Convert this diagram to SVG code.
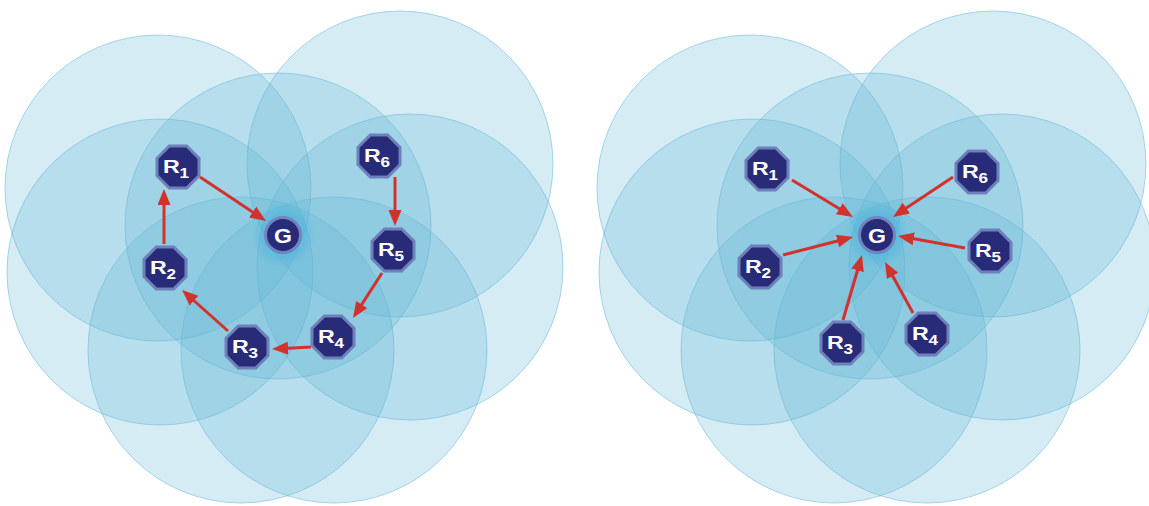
<svg xmlns="http://www.w3.org/2000/svg" width="1149" height="506" viewBox="0 0 1149 506">
<style>
.rng{fill:rgb(98,180,214);fill-opacity:0.26;stroke:rgb(100,182,218);stroke-opacity:0.55;stroke-width:1}
.oct{fill:#282b78;stroke:#6f80bb;stroke-width:3;stroke-linejoin:miter}
.gc{fill:#282b78;stroke:#7384bd;stroke-width:3}
.lbl{font-family:"Liberation Sans",Arial,sans-serif;font-weight:bold;fill:#ffffff;font-size:19px}
.sub{font-size:14px}
.g{font-family:"Liberation Sans",Arial,sans-serif;font-weight:bold;fill:#ffffff;font-size:21px}
.arr{stroke:#d2322b;stroke-width:3;fill:none;marker-end:url(#ah)}
</style>
<defs>
<marker id="ah" markerUnits="userSpaceOnUse" markerWidth="18" markerHeight="14" refX="4" refY="6.5" orient="auto">
<path d="M0,0 L16,6.5 L0,13 z" fill="#d2322b"/>
</marker>
<polygon id="octo" points="21,8.7 8.7,21 -8.7,21 -21,8.7 -21,-8.7 -8.7,-21 8.7,-21 21,-8.7"/>
<radialGradient id="glow">
<stop offset="0.5" stop-color="#3fb2e2" stop-opacity="0.55"/>
<stop offset="1" stop-color="#3fb2e2" stop-opacity="0"/>
</radialGradient>
</defs>

<g id="ranges-left">
<circle class="rng" cx="158" cy="188" r="153"/>
<circle class="rng" cx="160" cy="272" r="153"/>
<circle class="rng" cx="278" cy="226" r="153"/>
<circle class="rng" cx="400" cy="164" r="153"/>
<circle class="rng" cx="410" cy="267" r="153"/>
<circle class="rng" cx="241" cy="350" r="153"/>
<circle class="rng" cx="334" cy="350" r="153"/>
</g>
<g id="ranges-right">
<circle class="rng" cx="750" cy="188" r="153"/>
<circle class="rng" cx="752" cy="272" r="153"/>
<circle class="rng" cx="870" cy="226" r="153"/>
<circle class="rng" cx="993" cy="164" r="153"/>
<circle class="rng" cx="1002" cy="267" r="153"/>
<circle class="rng" cx="834" cy="350" r="153"/>
<circle class="rng" cx="927" cy="350" r="153"/>
</g>
<circle cx="283" cy="235" r="32" fill="url(#glow)"/>
<circle cx="877" cy="235" r="32" fill="url(#glow)"/>

<g id="connectors">
<line class="arr" x1="200" y1="177" x2="256" y2="214.3"/>
<line class="arr" x1="395" y1="177" x2="395" y2="214"/>
<line class="arr" x1="382" y1="273" x2="359.5" y2="307.9"/>
<line class="arr" x1="311" y1="347" x2="284" y2="348.4"/>
<line class="arr" x1="228" y1="331" x2="191" y2="298"/>
<line class="arr" x1="164" y1="244" x2="164" y2="201"/>
<line class="arr" x1="792" y1="180" x2="842.7" y2="210.8"/>
<line class="arr" x1="953" y1="177" x2="903" y2="210.3"/>
<line class="arr" x1="965" y1="248" x2="909.8" y2="238.1"/>
<line class="arr" x1="783" y1="255" x2="841.4" y2="240"/>
<line class="arr" x1="843" y1="320" x2="858.6" y2="266.5"/>
<line class="arr" x1="913" y1="313" x2="890.8" y2="272.5"/>
</g>

<g id="L-R1"><use href="#octo" class="oct" x="178" y="167"/><text class="lbl" text-anchor="middle" transform="translate(176,173) scale(1.22,1)">R<tspan class="sub" dy="5">1</tspan></text></g>
<g id="L-R2"><use href="#octo" class="oct" x="165" y="268"/><text class="lbl" text-anchor="middle" transform="translate(163,274) scale(1.22,1)">R<tspan class="sub" dy="5">2</tspan></text></g>
<g id="L-R3"><use href="#octo" class="oct" x="247" y="347"/><text class="lbl" text-anchor="middle" transform="translate(245,353) scale(1.22,1)">R<tspan class="sub" dy="5">3</tspan></text></g>
<g id="L-R4"><use href="#octo" class="oct" x="333" y="337"/><text class="lbl" text-anchor="middle" transform="translate(331,343) scale(1.22,1)">R<tspan class="sub" dy="5">4</tspan></text></g>
<g id="L-R5"><use href="#octo" class="oct" x="393" y="250"/><text class="lbl" text-anchor="middle" transform="translate(391,256) scale(1.22,1)">R<tspan class="sub" dy="5">5</tspan></text></g>
<g id="L-R6"><use href="#octo" class="oct" x="379" y="156"/><text class="lbl" text-anchor="middle" transform="translate(377,162) scale(1.22,1)">R<tspan class="sub" dy="5">6</tspan></text></g>
<g id="L-G"><circle class="gc" cx="283" cy="235" r="17.5"/><text class="g" text-anchor="middle" transform="translate(283,242.5) scale(1.1,1)">G</text></g>

<g id="R-R1"><use href="#octo" class="oct" x="767" y="169"/><text class="lbl" text-anchor="middle" transform="translate(765,175) scale(1.22,1)">R<tspan class="sub" dy="5">1</tspan></text></g>
<g id="R-R2"><use href="#octo" class="oct" x="760" y="267"/><text class="lbl" text-anchor="middle" transform="translate(758,273) scale(1.22,1)">R<tspan class="sub" dy="5">2</tspan></text></g>
<g id="R-R3"><use href="#octo" class="oct" x="842" y="343"/><text class="lbl" text-anchor="middle" transform="translate(840,349) scale(1.22,1)">R<tspan class="sub" dy="5">3</tspan></text></g>
<g id="R-R4"><use href="#octo" class="oct" x="927" y="334"/><text class="lbl" text-anchor="middle" transform="translate(925,340) scale(1.22,1)">R<tspan class="sub" dy="5">4</tspan></text></g>
<g id="R-R5"><use href="#octo" class="oct" x="990" y="251"/><text class="lbl" text-anchor="middle" transform="translate(988,257) scale(1.22,1)">R<tspan class="sub" dy="5">5</tspan></text></g>
<g id="R-R6"><use href="#octo" class="oct" x="977" y="172"/><text class="lbl" text-anchor="middle" transform="translate(975,178) scale(1.22,1)">R<tspan class="sub" dy="5">6</tspan></text></g>
<g id="R-G"><circle class="gc" cx="877" cy="235" r="17.5"/><text class="g" text-anchor="middle" transform="translate(877,242.5) scale(1.1,1)">G</text></g>
</svg>
